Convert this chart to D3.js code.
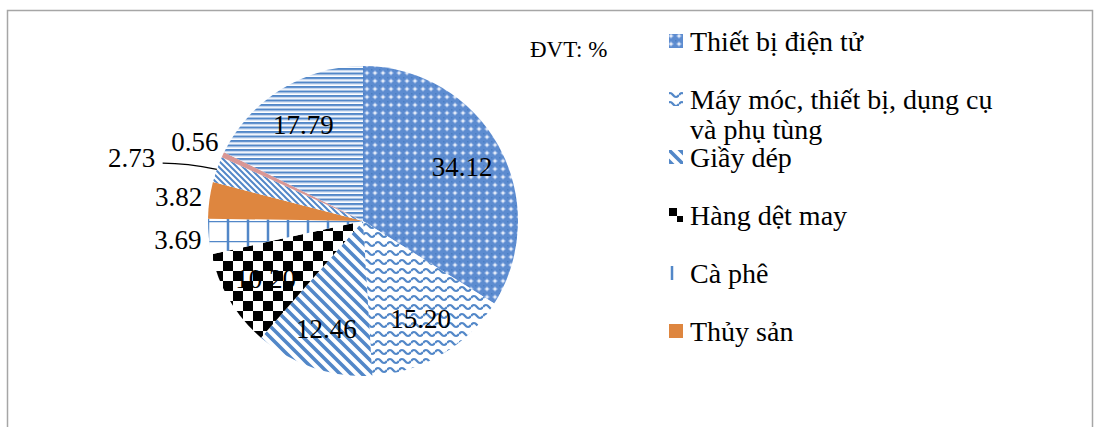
<!DOCTYPE html>
<html>
<head>
<meta charset="utf-8">
<script src="https://cdn.jsdelivr.net/npm/d3@7"></script>
<style>
  body { margin: 0; background: #fff; }
  svg { display: block; }
  svg text { font-family: "Liberation Serif", "Times New Roman", serif; }
</style>
</head>
<body>
<svg id="chart" width="1102" height="427"></svg>
<script>
// ---------- data ----------
const categories = [
  "Thiết bị điện tử",
  "Máy móc, thiết bị, dụng cụ và phụ tùng",
  "Giầy dép",
  "Hàng dệt may",
  "Cà phê",
  "Thủy sản",
  "Hạt điều",
  "Hạt tiêu",
  "Khác"
];
const values = [34.12, 15.20, 12.46, 10.20, 3.69, 3.82, 2.73, 0.56, 17.79];
const valueLabels = ["34.12", "15.20", "12.46", "10.20", "3.69", "3.82", "2.73", "0.56", "17.79"];
const legendShown = 6; // the legend box only has room for the first six
const unitLabel = "ĐVT: %";

// ---------- setup ----------
const svg = d3.select("#chart");
const BLUE = "#5287c8";
const cx = 363, cy = 221, R = 155;

// frame
svg.append("rect")
  .attr("x", 7.5).attr("y", 10.5)
  .attr("width", 1085).attr("height", 440)
  .attr("fill", "none")
  .attr("stroke", "#a6a6a6")
  .attr("stroke-width", 1.5);

// ---------- patterns ----------
const defs = svg.append("defs");

function pattern(id, w, h) {
  return defs.append("pattern")
    .attr("id", id)
    .attr("patternUnits", "userSpaceOnUse")
    .attr("width", w).attr("height", h);
}

// electronics: blue weave with light diamonds
let p = pattern("p0", 8, 8);
p.append("rect").attr("width", 8).attr("height", 8).attr("fill", "#5d8cd0");
p.append("path").attr("d", "M4,1.2L6.8,4L4,6.8L1.2,4Z").attr("fill", "#a9c2e9");
p.append("rect").attr("x", 3.2).attr("y", 3.2).attr("width", 1.6).attr("height", 1.6).attr("fill", "#ffffff");
p.append("rect").attr("x", 0).attr("y", 0).attr("width", 1.5).attr("height", 1.5).attr("fill", "#4a7ec2");

// machinery: waves
p = pattern("p1", 12, 9);
p.append("rect").attr("width", 12).attr("height", 9).attr("fill", "#fff");
p.append("path").attr("d", "M0,5 Q3,1 6,5 T12,5")
  .attr("fill", "none").attr("stroke", BLUE).attr("stroke-width", 2.2);

// footwear: wide downward diagonal
p = pattern("p2", 11, 11);
p.append("rect").attr("width", 11).attr("height", 11).attr("fill", "#fff");
p.append("path").attr("d", "M-3,-3L14,14M-3,8L3,14M8,-3L14,3")
  .attr("stroke", BLUE).attr("stroke-width", 3.6);

// textiles: checkerboard
p = pattern("p3", 20, 20);
p.append("rect").attr("width", 20).attr("height", 20).attr("fill", "#fff");
p.append("rect").attr("width", 10).attr("height", 10).attr("fill", "#000");
p.append("rect").attr("x", 10).attr("y", 10).attr("width", 10).attr("height", 10).attr("fill", "#000");

// coffee: large grid
p = pattern("p4", 20, 20);
p.append("rect").attr("width", 20).attr("height", 20).attr("fill", "#fff");
p.append("path").attr("d", "M5,0V20M0,0H20")
  .attr("stroke", BLUE).attr("stroke-width", 2.5);

// narrow downward diagonal
p = pattern("p6", 6, 6);
p.append("rect").attr("width", 6).attr("height", 6).attr("fill", "#fff");
p.append("path").attr("d", "M-2,-2L8,8M-2,4L2,8M4,-2L8,2")
  .attr("stroke", BLUE).attr("stroke-width", 2);

// horizontal narrow stripes
p = pattern("p8", 4.5, 4.5);
p.append("rect").attr("width", 4.5).attr("height", 4.5).attr("fill", "#fff");
p.append("rect").attr("width", 4.5).attr("height", 2).attr("fill", BLUE);
p.append("rect").attr("y", 2).attr("width", 4.5).attr("height", 1).attr("fill", "#b3c9ea");

const fills = ["url(#p0)", "url(#p1)", "url(#p2)", "url(#p3)", "url(#p4)",
               "#de863f", "url(#p6)", "#d99795", "url(#p8)"];

// ---------- pie ----------
const pie = d3.pie().sort(null).value(d => d);
const arcs = pie(values);
const arc = d3.arc().innerRadius(0).outerRadius(R);

const g = svg.append("g").attr("transform", `translate(${cx},${cy})`);

g.selectAll("path.slice")
  .data(arcs)
  .enter()
  .append("path")
  .attr("class", "slice")
  .attr("d", arc)
  .attr("fill", (d, i) => fills[i]);

// ---------- labels ----------
const inArc = d3.arc().innerRadius(R * 0.73).outerRadius(R * 0.73);
const outArc = d3.arc().innerRadius(R + 31).outerRadius(R + 31);
const edgeArc = d3.arc().innerRadius(R).outerRadius(R);

arcs.forEach((d, i) => {
  let pos;
  if (d.value >= 5) {
    pos = inArc.centroid(d);
  } else if (i === 6) {
    // pushed further out with a leader line
    const mid = (d.startAngle + d.endAngle) / 2 - 0.07;
    pos = [Math.sin(mid) * (R + 85), -Math.cos(mid) * (R + 85)];
    const end = edgeArc.centroid(d);
    g.append("path")
      .attr("d", `M${pos[0] + 31},${pos[1] + 6}Q${pos[0] + 55},${pos[1] + 6} ${end[0]},${end[1]}`)
      .attr("fill", "none")
      .attr("stroke", "#000")
      .attr("stroke-width", 1.2);
  } else {
    pos = outArc.centroid(d);
  }
  g.append("text")
    .attr("x", pos[0])
    .attr("y", pos[1])
    .attr("dy", "0.35em")
    .attr("text-anchor", "middle")
    .attr("font-size", 27)
    .attr("fill", "#000")
    .text(valueLabels[i]);
});

// unit note
svg.append("text")
  .attr("x", 530).attr("y", 57)
  .attr("font-size", 23)
  .text(unitLabel);

// ---------- legend ----------
const legendX = 669, legendY = 41, step = 58;
const legend = svg.append("g");

categories.slice(0, legendShown).forEach((name, i) => {
  const y = legendY + i * step;
  // key square in its own coordinates so the pattern starts near its corner
  legend.append("g")
    .attr("transform", `translate(${legendX - 2},${y - 9})`)
    .append("rect")
    .attr("x", 2).attr("y", 2)
    .attr("width", 14).attr("height", 14)
    .attr("fill", fills[i]);
  const t = legend.append("text")
    .attr("x", legendX + 21)
    .attr("y", y + 10)
    .attr("font-size", 28);
  // wrap long entries at the box width
  const words = name.split(" ");
  let line = [], tspan = t.append("tspan").attr("x", legendX + 21);
  words.forEach(w => {
    line.push(w);
    tspan.text(line.join(" "));
    if (tspan.node().getComputedTextLength() > 310 && line.length > 1) {
      line.pop();
      tspan.text(line.join(" "));
      line = [w];
      tspan = t.append("tspan").attr("x", legendX + 21).attr("dy", 30).text(w);
    }
  });
});
</script>
</body>
</html>
